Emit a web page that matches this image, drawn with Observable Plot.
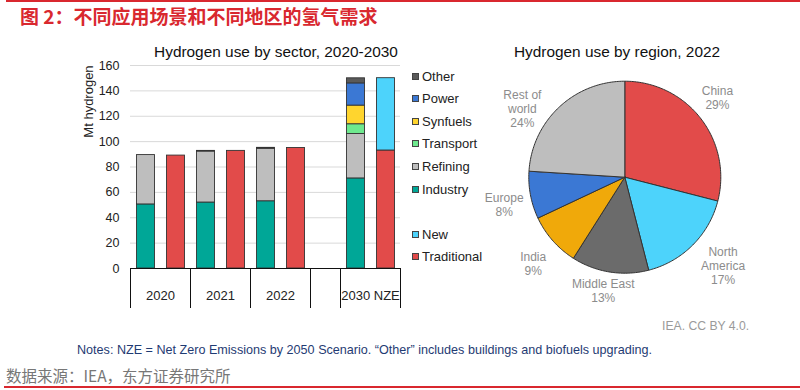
<!DOCTYPE html>
<html>
<head>
<meta charset="utf-8">
<script src="https://cdn.jsdelivr.net/npm/d3@7"></script>
<script src="https://cdn.jsdelivr.net/npm/@observablehq/plot@0.6"></script>
<style>
  html, body { margin: 0; padding: 0; background: #fff; }
  body { width: 800px; height: 390px; position: relative; overflow: hidden; font-family: "Liberation Sans", Arial, sans-serif; }
  .abs { position: absolute; white-space: nowrap; }
  .legend-item { position: absolute; left: 412px; font-size: 13px; color: #222; display: flex; align-items: center; height: 16px; }
  .sw { width: 7px; height: 7px; border: 1px solid #444; margin-right: 3px; box-sizing: border-box; }
</style>
</head>
<body>
<div class="abs" style="left:6px;top:0;width:794px;height:2px;background:#d9282f"></div>
<div class="abs" id="title" style="left:20px;top:3px;font-family:'Noto Sans CJK SC',sans-serif;font-weight:700;font-size:19px;color:#d9282f;line-height:26px"></div>
<div class="abs" id="t1" style="left:276px;top:43px;transform:translateX(-50%);font-size:15.4px;color:#111;line-height:18px"></div>
<div class="abs" id="t2" style="left:617px;top:43px;transform:translateX(-50%);font-size:15.4px;color:#111;line-height:18px"></div>
<div id="bar" class="abs" style="left:0;top:40px"></div>
<div id="pie" class="abs" style="left:480px;top:60px"></div>
<div id="legend"></div>
<div class="abs" id="credit" style="left:662px;top:319px;font-size:12.2px;color:#9a9a9a;line-height:14px"></div>
<div class="abs" id="notes" style="left:77px;top:343px;font-size:12.6px;color:#1f3b73;line-height:14px"></div>
<div class="abs" id="source" style="left:6px;top:365px;font-family:'Noto Sans CJK SC',sans-serif;font-size:15.5px;color:#777;line-height:20px"></div>
<div class="abs" style="left:4px;top:386px;width:796px;height:2px;background:#d9282f"></div>
<script>
// ---------- text ----------
const titleText = "图 2：不同应用场景和不同地区的氢气需求";
const barTitle = "Hydrogen use by sector, 2020-2030";
const pieTitle = "Hydrogen use by region, 2022";
const yLabel = "Mt hydrogen";
const creditText = "IEA. CC BY 4.0.";
const notesText = "Notes: NZE = Net Zero Emissions by 2050 Scenario. \u201cOther\u201d includes buildings and biofuels upgrading.";
const sourceText = "数据来源：IEA，东方证券研究所";

// ---------- bar chart data ----------
const years = ["2020", "2021", "2022", "2030 NZE"];
const sectorNames = ["Industry", "Refining", "Transport", "Synfuels", "Power", "Other"];
const industry  = [50.5, 52.0, 53.0, 71.0];
const refining  = [38.9, 40.2, 41.4, 35.0];
const transport = [0, 0, 0, 7.7];
const synfuels  = [0, 0, 0, 14.7];
const power     = [0, 0, 0, 17.5];
const other     = [0, 0.5, 0.7, 4.0];
const sourceNames = ["Traditional", "New"];
const traditional = [89.0, 92.7, 95.0, 93.0];
const newH2       = [0, 0, 0, 57.0];
const yTicks = [0, 20, 40, 60, 80, 100, 120, 140, 160];

const legendOrder = ["Other", "Power", "Synfuels", "Transport", "Refining", "Industry", null, "New", "Traditional"];
const seriesColors = {
  Industry: "#00a797", Refining: "#bebebe", Transport: "#6ee98e", Synfuels: "#ffd52e",
  Power: "#3b78d4", Other: "#5a5a5a", New: "#4dd3fb", Traditional: "#e24b4a"
};

// ---------- pie data ----------
const regions = ["China", "North America", "Middle East", "India", "Europe", "Rest of world"];
const shares = [29, 17, 13, 9, 8, 24];
const regionLabels = ["China\n29%", "North\nAmerica\n17%", "Middle East\n13%", "India\n9%", "Europe\n8%", "Rest of\nworld\n24%"];
const regionColors = ["#e24b4a", "#4dd3fb", "#6b6b6b", "#f0a90a", "#3b78d4", "#bebebe"];
// layout nudges (pixels) for the outside labels
const labelNudge = [[-6, -3], [10, 0], [-2, -10], [2, 4], [2, 4], [-17, 22]];

// ---------- texts ----------
document.getElementById("title").textContent = titleText;
document.getElementById("t1").textContent = barTitle;
document.getElementById("t2").textContent = pieTitle;
document.getElementById("credit").textContent = creditText;
document.getElementById("notes").textContent = notesText;
document.getElementById("source").textContent = sourceText;

// ---------- bar chart ----------
const sectorSeries = {Industry: industry, Refining: refining, Transport: transport, Synfuels: synfuels, Power: power, Other: other};
const sourceSeries = {Traditional: traditional, New: newH2};
const slots = [];
const rows = [];
years.forEach((yr, i) => {
  if (yr === "2030 NZE") slots.push("gap");
  const s = yr + "|s", t = yr + "|t";
  slots.push(s, t);
  sectorNames.forEach(n => { if (sectorSeries[n][i] > 0) rows.push({slot: s, series: n, value: sectorSeries[n][i]}); });
  sourceNames.forEach(n => { if (sourceSeries[n][i] > 0) rows.push({slot: t, series: n, value: sourceSeries[n][i]}); });
});
const leftEdges = years.map(y => y + "|s");
leftEdges.splice(3, 0, "gap");
const stackOrder = [...sectorNames, ...sourceNames];
const colorDomain = Object.keys(seriesColors);

const W = 480, H = 280, mL = 130, mR = 80, mT = 25, mB = 52;
const bar = Plot.plot({
  width: W, height: H,
  marginLeft: mL, marginRight: mR, marginTop: mT, marginBottom: mB,
  style: {fontFamily: "'Liberation Sans', Arial, sans-serif", color: "#222", background: "transparent", overflow: "visible"},
  x: {domain: slots, padding: 0, axis: null},
  y: {domain: [0, 160], axis: null},
  color: {domain: colorDomain, range: colorDomain.map(k => seriesColors[k])},
  marks: [
    Plot.gridY(yTicks.filter(d => d > 0), {stroke: "#d9d9d9", strokeOpacity: 1, strokeWidth: 1}),
    Plot.axisY(yTicks, {tickSize: 0, tickPadding: 11, fontSize: 12.5, label: null, fill: "#222"}),
    Plot.text([yLabel], {y: [131.6], frameAnchor: "left", textAnchor: "middle", dx: -42, rotate: -90, fontSize: 13, fill: "#222"}),
    Plot.barY(rows, {x: "slot", y: "value", fill: "series", order: stackOrder, stroke: "#333", strokeWidth: 0.9, insetLeft: 6.5, insetRight: 5.5}),
    Plot.ruleY([0], {stroke: "#111", strokeWidth: 1}),
    Plot.ruleX(leftEdges, {x: d => d, dx: -15, insetTop: H - mT - mB, insetBottom: -40, stroke: "#111", strokeWidth: 1}),
    Plot.ruleX([slots[slots.length - 1]], {x: d => d, dx: 15, insetTop: H - mT - mB, insetBottom: -40, stroke: "#111", strokeWidth: 1}),
    Plot.text(years, {x: d => d + "|s", dx: 15, frameAnchor: "bottom", dy: 31, fontSize: 13, fill: "#222"})
  ]
});
document.getElementById("bar").appendChild(bar);

// legend
const legend = document.getElementById("legend");
let ly = 68;
legendOrder.forEach(name => {
  if (name) {
    const d = document.createElement("div");
    d.className = "legend-item";
    d.style.top = ly + "px";
    d.innerHTML = `<span class="sw" style="background:${seriesColors[name]}"></span><span>${name}</span>`;
    legend.appendChild(d);
  }
  ly += 22.6;
});

// ---------- pie ----------
const PW = 300, PH = 250, cx = 144.3, cy = 116.7, R = 96;
const total = d3.sum(shares);
const piePts = [];
const labelPts = [];
let acc = 0;
regions.forEach((reg, i) => {
  const a0 = acc / total * 2 * Math.PI;
  acc += shares[i];
  const a1 = acc / total * 2 * Math.PI;
  piePts.push({region: reg, x: 0, y: 0});
  const n = Math.max(2, Math.ceil((a1 - a0) / (Math.PI / 180)));
  for (let k = 0; k <= n; k++) {
    const a = a0 + (a1 - a0) * k / n;
    piePts.push({region: reg, x: Math.sin(a), y: Math.cos(a)});
  }
  piePts.push({region: reg, x: 0, y: 0});
  const am = (a0 + a1) / 2;
  const lr = 1.3;
  labelPts.push({
    text: regionLabels[i],
    x: lr * Math.sin(am) + labelNudge[i][0] / R,
    y: lr * Math.cos(am) - labelNudge[i][1] / R
  });
});

const pie = Plot.plot({
  width: PW, height: PH, margin: 0,
  style: {fontFamily: "'Liberation Sans', Arial, sans-serif", background: "transparent", overflow: "visible"},
  x: {domain: [-cx / R, (PW - cx) / R], axis: null},
  y: {domain: [-(PH - cy) / R, cy / R], axis: null},
  color: {domain: regions, range: regionColors},
  marks: [
    Plot.line(piePts, {x: "x", y: "y", z: "region", fill: "region", stroke: "#333", strokeWidth: 1, curve: "linear", strokeLinejoin: "round"}),
    Plot.text(labelPts, {x: "x", y: "y", text: "text", fill: "#8c8c8c", fontSize: 12, lineHeight: 1.17})
  ]
});
document.getElementById("pie").appendChild(pie);
</script>
</body>
</html>
